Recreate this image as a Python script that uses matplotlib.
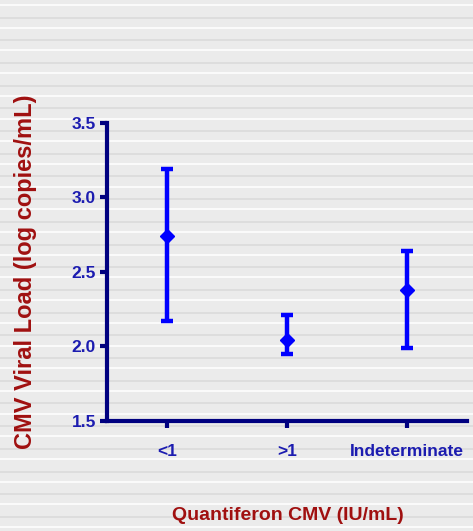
import matplotlib
matplotlib.use("Agg")
import matplotlib.pyplot as plt
from matplotlib.lines import Line2D
import numpy as np

# Quantiferon CMV groups and viral load summary (log copies/mL)
groups = ["<1", ">1", "Indeterminate"]
means = [2.74, 2.04, 2.38]
lower = [2.17, 1.95, 1.99]
upper = [3.19, 2.21, 2.64]

y_ticks = [1.5, 2.0, 2.5, 3.0, 3.5]

W, H = 473, 531
fig = plt.figure(figsize=(W / 100, H / 100), dpi=100)
fig.patch.set_facecolor("#ebebeb")

# lined-paper backdrop: alternating white and grey rules
step = 22.7
for k in range(int(H / step) + 2):
    yw = 5 + k * step
    yg = 17.5 + k * step
    for yp, col in ((yw, "#ffffff"), (yg, "#dadada")):
        if yp < H:
            fig.add_artist(Line2D([0, 1], [1 - yp / H, 1 - yp / H],
                                  transform=fig.transFigure, color=col,
                                  lw=1.1, zorder=0))

ax = fig.add_axes([107 / W, 1 - 420.7 / H, (467 - 107) / W, (420.7 - 122.7) / H])
ax.patch.set_alpha(0)

x = np.arange(1, len(groups) + 1)
m = np.array(means)
err = np.vstack([m - np.array(lower), np.array(upper) - m])
ax.errorbar(x, m, yerr=err, fmt="D", color="#0000ff", ms=7, elinewidth=3.2,
            capsize=4.5, capthick=3.2, zorder=3, clip_on=False)

ax.set_xlim(0.5, 3.5)
ax.set_ylim(1.5, 3.5)
ax.set_xticks(x)
ax.set_xticklabels(groups)
ax.set_yticks(y_ticks)
ax.set_yticklabels([f"{v:.1f}" for v in y_ticks])

for s in ("top", "right"):
    ax.spines[s].set_visible(False)
for s in ("left", "bottom"):
    ax.spines[s].set_color("#000080")
    ax.spines[s].set_linewidth(3)
    ax.spines[s].set_capstyle("projecting")

tick_col = "#1c1cb0"
ax.tick_params(axis="both", colors="#000080", width=3, length=5, direction="out")
for lab in ax.get_xticklabels() + ax.get_yticklabels():
    lab.set_color(tick_col)
    lab.set_fontfamily("Liberation Sans")
    lab.set_fontweight("bold")
    lab.set_fontsize(12.5)
ax.tick_params(axis="x", pad=12)
ax.tick_params(axis="y", pad=3)

lab_col = "#a01010"
fig.text(26 / W, 1 - 272 / H, "CMV Viral Load (log copies/mL)", rotation=90,
         ha="center", va="center", color=lab_col, fontfamily="Liberation Sans",
         fontweight="bold", fontsize=17)
fig.text(288 / W, 1 - 515 / H, "Quantiferon CMV (IU/mL)", ha="center",
         va="center", color=lab_col, fontfamily="Liberation Sans",
         fontweight="bold", fontsize=14)

fig.savefig("out.png", dpi=100, facecolor=fig.get_facecolor())
